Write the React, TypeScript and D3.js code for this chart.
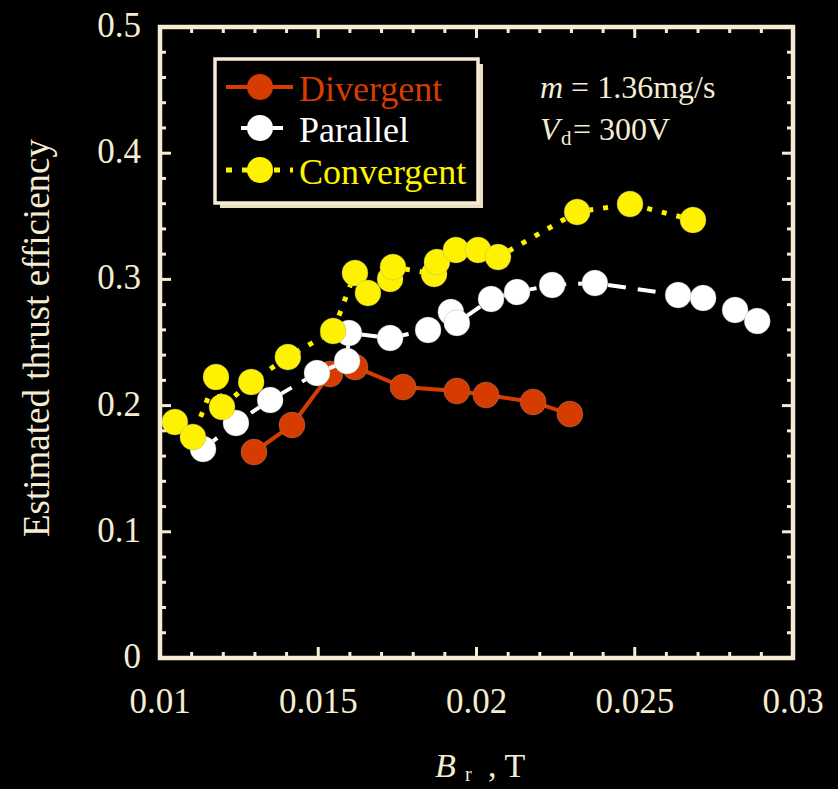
import React from 'react';
import * as d3 from 'd3';

// ---- Data ----
const divergentX = [0.01297, 0.01417, 0.01537, 0.01616, 0.01768, 0.01938, 0.0203, 0.02179, 0.02295];
const divergentY = [0.1632, 0.1846, 0.225, 0.2306, 0.2147, 0.2116, 0.2084, 0.2029, 0.1933];

const parallelX = [0.01136, 0.0124, 0.01348, 0.01496, 0.01591, 0.01597, 0.01727, 0.01847, 0.01919, 0.01938, 0.02046, 0.02128, 0.02239, 0.02374, 0.02637, 0.02716, 0.02817, 0.02887];
const parallelY = [0.1656, 0.1862, 0.2044, 0.2258, 0.2353, 0.2575, 0.2536, 0.2599, 0.2742, 0.2655, 0.2845, 0.29, 0.2956, 0.2971, 0.2876, 0.2853, 0.2758, 0.267];

const convergentX = [0.01047, 0.01104, 0.01177, 0.01196, 0.01288, 0.01404, 0.01547, 0.01616, 0.01657, 0.01727, 0.01736, 0.01866, 0.01875, 0.01935, 0.02005, 0.02068, 0.02318, 0.02485, 0.02684];
const convergentY = [0.187, 0.1751, 0.2227, 0.1989, 0.2187, 0.2385, 0.2591, 0.3051, 0.2892, 0.3003, 0.3098, 0.3043, 0.3138, 0.3233, 0.3233, 0.3177, 0.3534, 0.3597, 0.3471];

const xTickValues = [0.01, 0.015, 0.02, 0.025, 0.03];
const xTickLabels = ['0.01', '0.015', '0.02', '0.025', '0.03'];
const yTickValues = [0, 0.1, 0.2, 0.3, 0.4, 0.5];
const yTickLabels = ['0', '0.1', '0.2', '0.3', '0.4', '0.5'];

const seriesNames = ['Divergent', 'Parallel', 'Convergent'];

const CREAM = '#F6ECD3';
const RED = '#D63C00';
const WHITE = '#FFFFFF';
const YELLOW = '#FFF200';
const FONT = "'Liberation Serif', 'Times New Roman', Times, serif";

export default function App() {
  const W = 838, H = 789;
  const left = 160, right = 793, top = 27, bottom = 658;
  const x = d3.scaleLinear().domain([0.01, 0.03]).range([left, right]);
  const y = d3.scaleLinear().domain([0, 0.5]).range([bottom, top]);
  const line = d3.line<[number, number]>().x(d => x(d[0])).y(d => y(d[1]));

  const series = [
    { name: seriesNames[0], xs: divergentX, ys: divergentY, color: RED, dash: undefined as string | undefined, width: 4 },
    { name: seriesNames[1], xs: parallelX, ys: parallelY, color: WHITE, dash: '18,12', width: 4 },
    { name: seriesNames[2], xs: convergentX, ys: convergentY, color: YELLOW, dash: '5,10', width: 5 },
  ];

  const xMinor = d3.range(0, 21).map(i => 0.01 + i * 0.001);
  const yMinor = d3.range(0, 26).map(i => i * 0.02);
  const isMajorX = (v: number) => xTickValues.some(t => Math.abs(t - v) < 1e-9);
  const isMajorY = (v: number) => yTickValues.some(t => Math.abs(t - v) < 1e-9);
  const majLen = 11, minLen = 6;

  const R = 13;
  const legendRows = [87, 128, 170];
  const ts = { fontFamily: FONT };

  return (
    <svg width={W} height={H} style={{ position: 'absolute', left: 0, top: 0, background: '#000' }}>
      <rect x={0} y={0} width={W} height={H} fill="#000" />

      {/* data */}
      {series.map(s => {
        const pts: [number, number][] = s.xs.map((v, i) => [v, s.ys[i]]);
        return (
          <g key={s.name}>
            <path d={line(pts) || ''} fill="none" stroke={s.color} strokeWidth={s.width} strokeDasharray={s.dash} />
            {pts.map((p, i) => (
              <circle key={i} cx={x(p[0])} cy={y(p[1])} r={R} fill={s.color} stroke="#999" strokeOpacity={0.35} strokeWidth={1} />
            ))}
          </g>
        );
      })}

      {/* ticks */}
      {xMinor.map((v, i) => {
        const L = isMajorX(v) ? majLen : minLen;
        return (
          <g key={'xt' + i} stroke={CREAM} strokeWidth={3}>
            <line x1={x(v)} x2={x(v)} y1={bottom} y2={bottom - L} />
            <line x1={x(v)} x2={x(v)} y1={top} y2={top + L} />
          </g>
        );
      })}
      {yMinor.map((v, i) => {
        const L = isMajorY(v) ? majLen : minLen;
        return (
          <g key={'yt' + i} stroke={CREAM} strokeWidth={3}>
            <line x1={left} x2={left + L} y1={y(v)} y2={y(v)} />
            <line x1={right} x2={right - L} y1={y(v)} y2={y(v)} />
          </g>
        );
      })}

      {/* frame */}
      <rect x={left} y={top} width={right - left} height={bottom - top} fill="none" stroke={CREAM} strokeWidth={4.5} />

      {/* tick labels */}
      {xTickValues.map((v, i) => (
        <text key={'xl' + i} x={x(v)} y={713} fill={CREAM} fontSize={35} textAnchor="middle" style={ts}>{xTickLabels[i]}</text>
      ))}
      {yTickValues.map((v, i) => (
        <text key={'yl' + i} x={141} y={y(v) + 10} fill={CREAM} fontSize={35} textAnchor="end" style={ts}>{yTickLabels[i]}</text>
      ))}

      {/* axis titles */}
      <text transform="translate(49,338) rotate(-90)" fill={CREAM} fontSize={37} textAnchor="middle" style={ts}>Estimated thrust efficiency</text>
      <text x={435} y={777} fill={CREAM} fontSize={34} fontStyle="italic" style={ts}>B</text>
      <text x={465} y={781} fill={CREAM} fontSize={20} style={ts}>r</text>
      <text x={488} y={777} fill={CREAM} fontSize={34} style={ts}>, T</text>

      {/* annotation */}
      <text x={540} y={98} fill={CREAM} fontSize={32} style={ts}>
        <tspan fontStyle="italic">m</tspan>
        <tspan> = 1.36mg/s</tspan>
      </text>
      <text x={540} y={140} fill={CREAM} fontSize={32} fontStyle="italic" style={ts}>V</text>
      <text x={561} y={145} fill={CREAM} fontSize={21} style={ts}>d</text>
      <text x={573} y={140} fill={CREAM} fontSize={32} style={ts}>= 300V</text>

      {/* legend */}
      <rect x={220} y={64} width={263} height={144} fill="#E9DFC5" />
      <rect x={215} y={59} width={263} height={144} fill="#000" stroke={CREAM} strokeWidth={3.5} />
      {series.map((s, i) => {
        const ly = legendRows[i];
        const x1 = i === 1 ? 241 : 226;
        const x2 = i === 1 ? 290 : 293;
        return (
          <g key={'lg' + i}>
            <line x1={x1} x2={x2} y1={ly} y2={ly} stroke={s.color} strokeWidth={s.width}
              strokeDasharray={i === 2 ? '6,10' : i === 1 ? '12,18' : undefined} />
            <circle cx={260} cy={ly} r={R} fill={s.color} />
            <text x={299} y={ly + 14} fill={s.color} fontSize={36} style={ts}>{s.name}</text>
          </g>
        );
      })}
    </svg>
  );
}
